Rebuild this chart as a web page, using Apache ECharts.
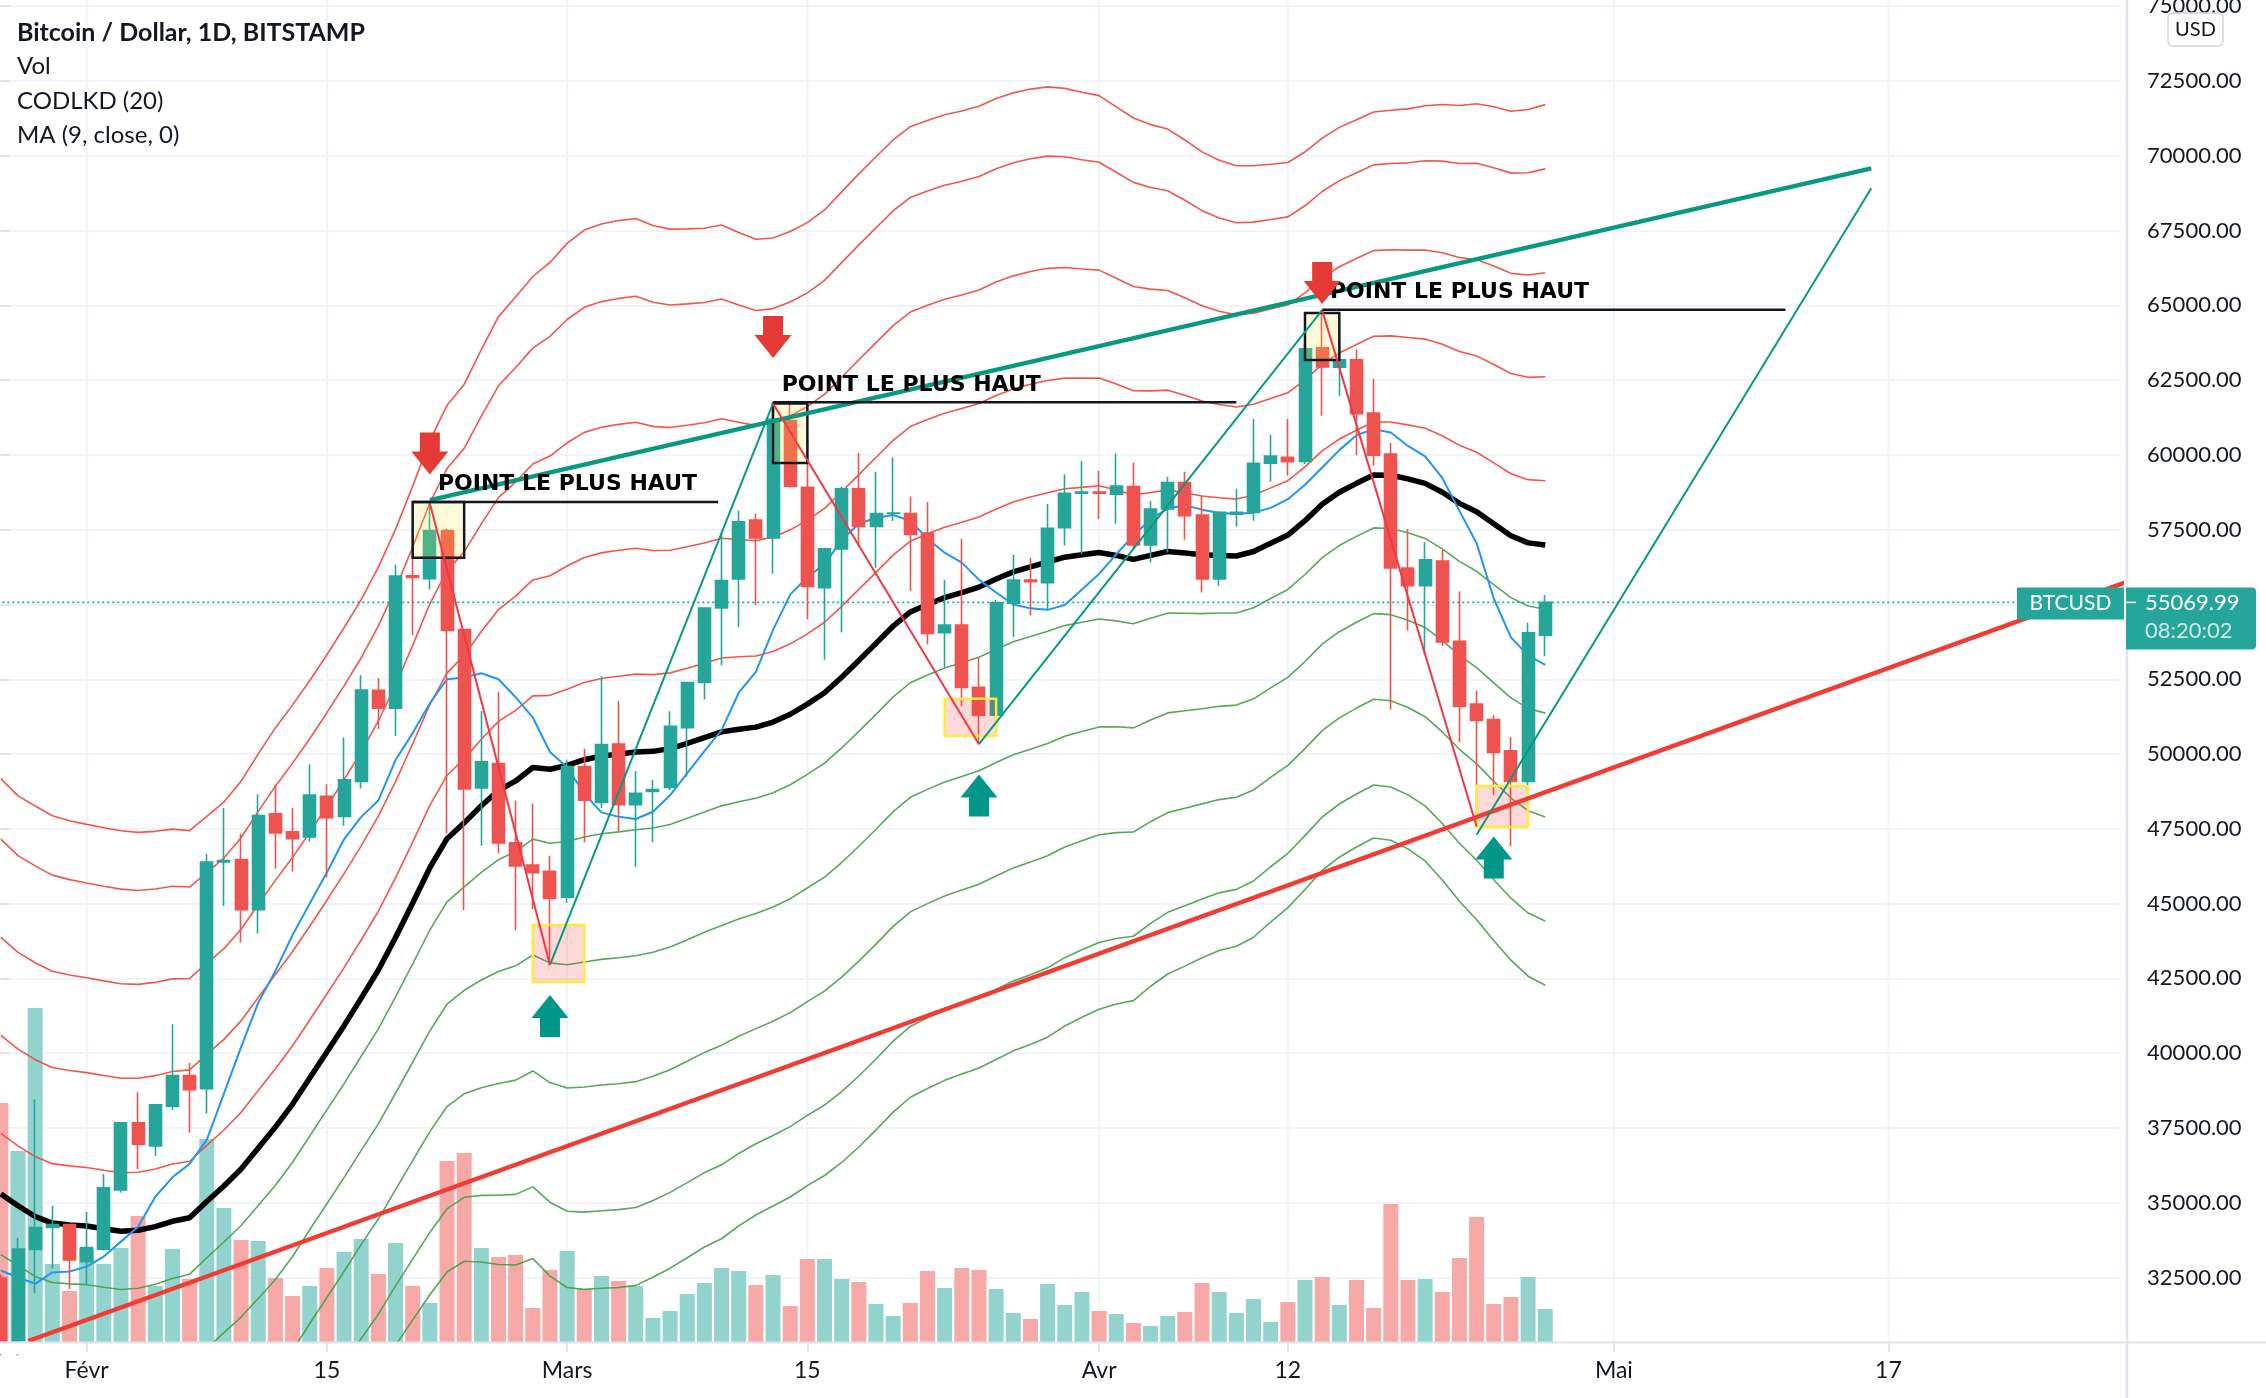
<!DOCTYPE html>
<html><head><meta charset="utf-8">
<script src="https://cdn.jsdelivr.net/npm/echarts@6/dist/echarts.min.js"></script>
<style>html,body{margin:0;padding:0;background:#fff;}#c{width:2266px;height:1398px;}</style>
</head><body><div id="c"></div>
<script>
// ---------- DATA ----------
// Daily candles, BTC/USD Bitstamp, 27 Jan 2021 -> 27 Apr 2021
const opens = [32480,30400,33440,34170,34270,
 33030,33450,35430,37670,36900,38230,39250,38810,46390,46470,44800,48000,47400,47230,48590,47910,49080,52130,51530,55960,55860,57470,54160,48870,49680,47030,46290,46080,
 45210,49580,48380,50330,48310,48750,48880,50880,52390,54880,55850,57820,57220,61150,58920,55560,56860,58870,57610,58040,58040,57390,54060,54310,52230,51300,55040,55820,55730,57570,58720,
 58760,58690,58940,56990,58190,59080,57990,55850,58020,58080,59720,59920,59780,63580,62930,63180,61400,60030,56220,55630,56450,53770,51670,51150,50110,49080,53970];
const highs = [32600,33820,38450,34900,34300,
 34700,35960,37700,38690,38300,40970,39670,46660,48200,47330,48660,48970,48200,49650,48990,50550,52630,52540,56330,57490,58380,57530,54180,51440,52070,48430,48340,46600,
 49810,50180,52600,51770,49430,49130,51430,52390,54900,57370,58130,58040,61720,61720,60550,56900,58940,60060,59440,59920,58610,58430,55820,57200,53240,55150,56660,56550,58360,59350,59800,
 59460,60050,59750,58460,59270,59440,58640,58120,58860,61200,60670,61200,63700,64840,63870,63520,62550,60400,57520,57080,56840,55440,52120,51300,50570,54390,55320];
const lows = [29900,29900,31970,32800,32120,
 32250,33400,35330,36130,36560,38100,37340,37980,44920,43700,44000,46170,46070,47070,45880,47600,48850,50840,50600,53970,55500,47340,44790,46930,46680,44110,44810,42950,
 45030,47050,48200,47430,46220,47050,48800,49240,51820,52970,54250,54980,56030,58900,54510,53150,54060,56920,56230,57790,55450,53660,52910,51600,50330,51200,53910,54630,54820,56970,56680,
 57860,57700,56860,56400,56740,57160,55400,55630,57600,57800,59110,59310,59700,61310,61970,59990,59640,51490,54130,53340,53610,50400,47580,48620,46920,48800,53270];
const closes = [30400,33450,34170,34270,33090,
 33500,35500,37670,36960,38270,39250,38780,46390,46440,44800,47940,47360,47170,48630,47870,49140,52140,51530,55950,55900,57470,54130,48830,49740,47030,46260,46030,45180,
 49580,48460,50320,48310,48690,48810,50930,52390,54880,55800,57760,57220,61190,58950,55600,56860,58870,57610,58040,58060,57340,54030,54310,52230,51300,55060,55820,55760,57550,58720,58760,
 58720,58960,56990,58190,59080,57970,55850,58080,58080,59720,59960,59770,63550,62940,63180,61380,59990,56220,55630,56490,53750,51600,51120,50050,49080,54050,55070];
const volumes = [23900,19100,33400,7800,5100,
 9300,7800,9400,12600,5600,9300,6300,20300,13400,10200,10100,6400,4600,5600,7400,9000,10300,6800,9900,5600,3900,18100,18900,9400,8500,8700,3400,7200,
 9100,5300,6600,6100,5600,2400,3100,4800,5900,7400,7100,5700,6700,3600,8300,8300,6300,6000,3800,2600,3900,7100,5400,7400,7200,5300,2900,2300,5800,3700,5000,
 3100,2800,1900,1600,2600,3000,5900,5000,2900,4300,2000,4000,6200,6500,3700,6200,3400,13800,6200,6300,5000,8400,12500,3800,4500,6500,3300];
// CODLKD (20): centre line and band unit (deviation) read per day
const bandMid = [35290,34900,34540,34320,34260,
 34220,34130,34050,34080,34200,34380,34500,35040,35560,36130,36830,37530,38300,39170,40040,40920,41840,42780,43870,45020,46200,47170,47700,48270,48780,49100,49550,49490,
 49620,49810,49930,50000,50070,50090,50180,50360,50550,50740,50830,50900,51070,51330,51670,52050,52570,53130,53700,54280,54750,55000,55230,55400,55580,55850,56090,56260,56420,56580,56660,
 56740,56640,56510,56640,56770,56720,56660,56640,56620,56770,57050,57320,57800,58350,58750,59050,59330,59320,59200,59050,58750,58380,58100,57700,57300,57060,56990];
const bandDev = [3279,3235,3240,3215,3190,
 3170,3165,3160,3140,3120,3095,3055,3040,3030,3060,3110,3150,3150,3135,3135,3140,3145,3180,3220,3290,3370,3420,3460,3600,3740,3820,3875,4000,
 4120,4180,4200,4210,4210,4150,4100,4060,4020,4000,3920,3850,3820,3810,3800,3810,3830,3840,3840,3836,3830,3820,3810,3800,3795,3792,3780,3770,3750,3700,3650,
 3605,3540,3483,3400,3334,3260,3180,3118,3080,3044,2990,2940,2910,2890,2880,2870,2865,2880,2920,2980,3060,3140,3220,3290,3350,3420,3475];
const bandMults = [4.236, 3.618, 2.618, 1.618, 0.618];
// MA (9, close)
const ma9 = [32735,32500,32290,32670,32700,
 32865,33200,33700,34200,35200,35850,36300,37100,38650,40200,41690,42750,43950,45000,46040,47150,47900,48450,49800,50700,51700,52500,52560,52700,52500,51900,51220,50070,
 49560,48670,48050,47900,47830,48070,48620,49360,50100,50800,52050,52750,54150,55330,55920,56350,57150,57700,57900,57990,57800,57200,56730,56400,55830,55400,55000,54870,54820,54980,55500,
 56020,56680,57300,57850,58200,58320,58170,58060,58030,58070,58230,58520,59000,59580,60160,60660,60860,60750,60300,59950,59230,58130,57050,55200,53900,53300,52980];

// Axis ticks
const yTicks = {min: 30000, max: 75000, step: 2500};
const xTickIdx = [5, 19, 33, 47, 64, 75, 94, 110];
const xTickText = ['Févr', '15', 'Mars', '15', 'Avr', '12', 'Mai', '17'];
const lastPrice = 55069.99;

// Drawings (day index from 27 Jan, price)
const resistanceLine = [[25, 58490], [109, 69580]];
const supportLine = [[1.6, 30378], [123.9, 55760]];
const upLegs = [[[32, 42950], [45, 61720]], [[57, 50330], [77, 64840]], [[86, 47300], [109, 68913]]];
const downLegs = [[[25, 58380], [32, 42950]], [[45, 61720], [57, 50330]], [[77, 64840], [86, 47580]]];
const highBoxes = [[24, 27, 58426, 56564], [45, 47, 61720, 59730], [76, 78, 64744, 63176]];
const lowBoxes = [[31, 34, 44285, 42380], [55, 58, 51850, 50613], [86, 89, 48930, 47560]];
const downArrows = [[25, 59342], [45, 63240], [77, 65045]];
const upArrows = [[32, 41945], [57, 49316], [87, 47240]];
const labelLines = [[24, 41.8, 58426], [45, 72, 61760], [77, 104, 64850]];
const labelTexts = [[25.47, 59028, 'POINT LE PLUS HAUT'], [45.5, 62343, 'POINT LE PLUS HAUT'], [77.45, 65446, 'POINT LE PLUS HAUT']];

// ---------- CHART ----------
const N_CAT = 124;
const categories = [];
const t0 = Date.UTC(2021, 0, 27);
for (let i = 0; i < N_CAT; i++) categories.push(new Date(t0 + i * 86400000).toISOString().slice(0, 10));

const UP = '#26a69a', DOWN = '#ef5350';
const chart = echarts.init(document.getElementById('c'), null, {renderer: 'canvas'});

const gridL = -7.73, gridR = 145.9;
const series = [];
series.push({
  type: 'bar', xAxisIndex: 2, yAxisIndex: 1, barWidth: 15, silent: true, z: 1,
  data: volumes.map((v, i) => ({value: v, itemStyle: {color: closes[i] >= opens[i] ? '#93d3cd' : '#f7a9a7'}}))
});
bandMults.forEach(k => {
  series.push({type: 'line', xAxisIndex: 1, yAxisIndex: 0, symbol: 'none', silent: true, z: 2,
    lineStyle: {color: '#f44336', width: 1.6, opacity: 0.9},
    data: bandMid.map((m, i) => [i, m + k * bandDev[i]])});
  series.push({type: 'line', xAxisIndex: 1, yAxisIndex: 0, symbol: 'none', silent: true, z: 2,
    lineStyle: {color: '#43a047', width: 1.6, opacity: 0.9},
    data: bandMid.map((m, i) => [i, m - k * bandDev[i]])});
});
series.push({type: 'line', xAxisIndex: 1, yAxisIndex: 0, symbol: 'none', silent: true, z: 3,
  lineStyle: {color: '#000', width: 5.5}, data: bandMid.map((m, i) => [i, m])});
series.push({type: 'line', xAxisIndex: 1, yAxisIndex: 0, symbol: 'none', silent: true, z: 3,
  lineStyle: {color: '#2196f3', width: 2}, data: ma9.map((m, i) => [i, m])});
series.push({type: 'line', xAxisIndex: 1, yAxisIndex: 0, symbol: 'none', silent: true, z: 3,
  lineStyle: {color: UP, width: 1.6, type: [2, 3]}, data: [[-0.5, lastPrice], [N_CAT - 0.5, lastPrice]]});
series.push({
  type: 'candlestick', xAxisIndex: 0, yAxisIndex: 0, barWidth: 12.5, silent: true, z: 4,
  itemStyle: {color: UP, color0: DOWN, borderColor: UP, borderColor0: DOWN, borderWidth: 1.6},
  data: opens.map((o, i) => [o, closes[i], lows[i], highs[i]])
});
series.push({type: 'line', xAxisIndex: 1, yAxisIndex: 0, symbol: 'none', silent: true, z: 6,
  lineStyle: {color: '#089981', width: 4.5}, data: resistanceLine});
series.push({type: 'line', xAxisIndex: 1, yAxisIndex: 0, symbol: 'none', silent: true, z: 6,
  lineStyle: {color: '#f23b32', width: 4.5}, data: supportLine});
upLegs.forEach(seg => series.push({type: 'line', xAxisIndex: 1, yAxisIndex: 0, symbol: 'none', silent: true, z: 6,
  lineStyle: {color: '#089981', width: 2}, data: seg}));
downLegs.forEach(seg => series.push({type: 'line', xAxisIndex: 1, yAxisIndex: 0, symbol: 'none', silent: true, z: 6,
  lineStyle: {color: '#f23645', width: 2}, data: seg}));

const showTick = (idx) => xTickIdx.indexOf(idx) >= 0;

chart.setOption({
  animation: false,
  backgroundColor: '#ffffff',
  grid: [
    {left: gridL, right: gridR, top: 6.22, bottom: 45.7, containLabel: false, outerBoundsMode: 'none'},
    {left: gridL, right: gridR, top: 842, bottom: 56, containLabel: false, outerBoundsMode: 'none'}
  ],
  xAxis: [
    {type: 'category', gridIndex: 0, data: categories, boundaryGap: true, show: false},
    {type: 'value', gridIndex: 0, min: -0.5, max: N_CAT - 0.5, show: false},
    {type: 'category', gridIndex: 1, data: categories, boundaryGap: true, z: 45,
      axisLine: {show: false},
      axisTick: {show: true, alignWithLabel: true, interval: (i) => showTick(i), length: 10, lineStyle: {color: '#e0e3eb', width: 2}},
      axisLabel: {interval: (i) => showTick(i), formatter: (v, i) => xTickText[xTickIdx.indexOf(i)] || '',
        margin: 17, fontFamily: 'Lato', fontSize: 23, color: '#131722'},
      splitLine: {show: false}}
  ],
  yAxis: [
    {type: 'value', gridIndex: 0, position: 'right', min: yTicks.min, max: yTicks.max, interval: yTicks.step, offset: 7,
      axisLine: {show: false},
      axisTick: {show: true, length: 9, lineStyle: {color: '#e0e3eb', width: 2}},
      axisLabel: {margin: 20, fontFamily: 'Lato', fontSize: 22, color: '#131722',
        formatter: (v) => v <= yTicks.min ? '' : v.toFixed(2)},
      splitLine: {lineStyle: {color: '#f0f3fa', width: 2}}},
    {type: 'value', gridIndex: 1, min: 0, max: 50000, show: false, splitLine: {show: false}}
  ],
  series: series
});

// ---------- overlay drawings placed through the axes ----------
const X = v => chart.convertToPixel({xAxisIndex: 1}, v);
const Y = v => chart.convertToPixel({yAxisIndex: 0}, v);
const g = [];
// vertical grid lines at label dates
xTickIdx.forEach(i => g.push({type: 'line', z: -1, silent: true,
  shape: {x1: X(i), y1: 0, x2: X(i), y2: 1342}, style: {stroke: '#f0f3fa', lineWidth: 2}}));
// cover below the time axis
g.push({type: 'rect', z: 40, silent: true, shape: {x: -10, y: 1343, width: 2290, height: 11}, style: {fill: '#fff'}});
g.push({type: 'line', z: 41, silent: true, shape: {x1: 0, y1: 1342.5, x2: 2266, y2: 1342.5}, style: {stroke: '#e0e3eb', lineWidth: 2}});
g.push({type: 'line', z: 41, silent: true, shape: {x1: 2127, y1: 0, x2: 2127, y2: 1398}, style: {stroke: '#e0e3eb', lineWidth: 2.5}});
// boxes
highBoxes.forEach(b => g.push({type: 'rect', z: 5, silent: true,
  shape: {x: X(b[0]), y: Y(b[2]), width: X(b[1]) - X(b[0]), height: Y(b[3]) - Y(b[2])},
  style: {fill: 'rgba(255,235,59,0.2)', stroke: '#131722', lineWidth: 2.5}}));
lowBoxes.forEach(b => g.push({type: 'rect', z: 5, silent: true,
  shape: {x: X(b[0]), y: Y(b[2]), width: X(b[1]) - X(b[0]), height: Y(b[3]) - Y(b[2])},
  style: {fill: 'rgba(244,67,54,0.2)', stroke: '#ffeb3b', lineWidth: 2.5}}));
// label lines and texts
labelLines.forEach(l => g.push({type: 'line', z: 7, silent: true,
  shape: {x1: X(l[0]), y1: Y(l[2]), x2: X(l[1]), y2: Y(l[2])}, style: {stroke: '#131722', lineWidth: 2.5}}));
labelTexts.forEach(t => g.push({type: 'text', z: 8, silent: true, x: X(t[0]), y: Y(t[1]),
  style: {text: t[2], fill: '#000', font: 'bold 22px "DejaVu Sans"', textAlign: 'left', textVerticalAlign: 'middle'}}));
// arrows
downArrows.forEach(a => { const cx = X(a[0]), ty = Y(a[1]);
  g.push({type: 'polygon', z: 8, silent: true, shape: {points: [[cx - 10, ty - 42], [cx + 10, ty - 42], [cx + 10, ty - 23], [cx + 18.5, ty - 23], [cx, ty], [cx - 18.5, ty - 23], [cx - 10, ty - 23]]},
    style: {fill: '#e53935'}}); });
upArrows.forEach(a => { const cx = X(a[0]), ty = Y(a[1]);
  g.push({type: 'polygon', z: 8, silent: true, shape: {points: [[cx, ty], [cx + 18.5, ty + 23], [cx + 10, ty + 23], [cx + 10, ty + 42], [cx - 10, ty + 42], [cx - 10, ty + 23], [cx - 18.5, ty + 23]]},
    style: {fill: '#009688'}}); });
// legend
const legend = [['Bitcoin / Dollar, 1D, BITSTAMP', 'bold 25px Lato'], ['Vol', '24px Lato'], ['CODLKD (20)', '24px Lato'], ['MA (9, close, 0)', '24px Lato']];
legend.forEach((l, k) => g.push({type: 'text', z: 50, silent: true, x: 17, y: 32.5 + k * 34.2,
  style: {text: l[0], fill: '#131722', font: l[1], textAlign: 'left', textVerticalAlign: 'middle'}}));
// USD button
g.push({type: 'rect', z: 50, silent: true, shape: {x: 2168, y: 13, width: 55, height: 33, r: 5}, style: {fill: '#fff', stroke: '#d1d4dc', lineWidth: 1.5}});
g.push({type: 'text', z: 51, silent: true, x: 2195.5, y: 30, style: {text: 'USD', fill: '#131722', font: '20px Lato', textAlign: 'center', textVerticalAlign: 'middle'}});
// last price labels
const py = Y(lastPrice);
g.push({type: 'rect', z: 50, silent: true, shape: {x: 2017, y: py - 15, width: 107, height: 32}, style: {fill: UP}});
g.push({type: 'text', z: 51, silent: true, x: 2070.5, y: py + 1, style: {text: 'BTCUSD', fill: '#fff', font: '21px Lato', textAlign: 'center', textVerticalAlign: 'middle'}});
g.push({type: 'rect', z: 50, silent: true, shape: {x: 2126, y: py - 15, width: 130, height: 62, r: [0, 4, 4, 0]}, style: {fill: UP}});
g.push({type: 'line', z: 51, silent: true, shape: {x1: 2126, y1: py, x2: 2136, y2: py}, style: {stroke: '#fff', lineWidth: 1.5}});
g.push({type: 'text', z: 51, silent: true, x: 2145, y: py + 1, style: {text: lastPrice.toFixed(2), fill: '#fff', font: '22px Lato', textAlign: 'left', textVerticalAlign: 'middle'}});
g.push({type: 'text', z: 51, silent: true, x: 2145, y: py + 29, style: {text: '08:20:02', fill: 'rgba(255,255,255,0.78)', font: '22px Lato', textAlign: 'left', textVerticalAlign: 'middle'}});
chart.setOption({graphic: {elements: g}});
</script>
</body></html>
